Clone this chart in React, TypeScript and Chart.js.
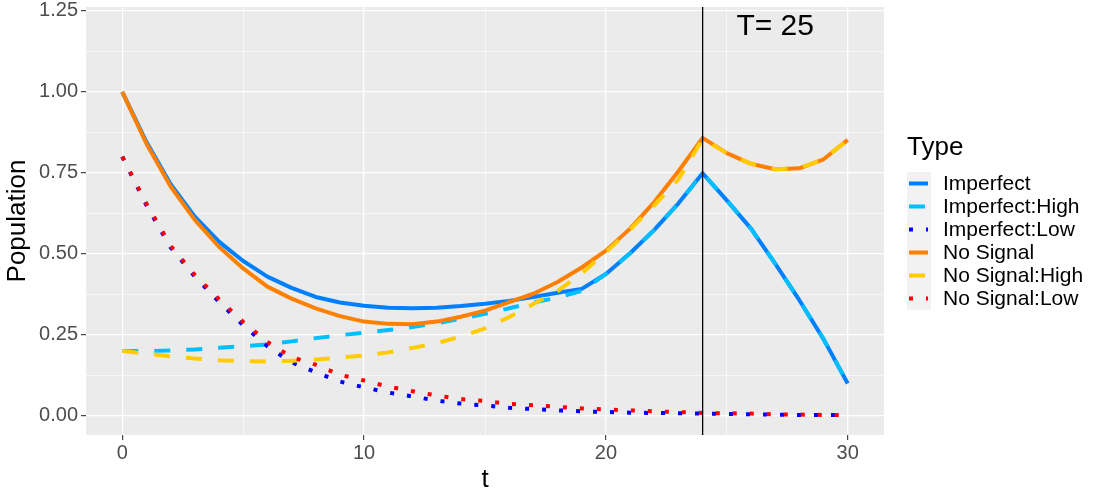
import React, { useEffect, useRef } from "react";
import { Chart, registerables } from "chart.js";

Chart.register(...registerables);

const tValues = [0, 1, 2, 3, 4, 5, 6, 7, 8, 9, 10, 11, 12, 13, 14, 15, 16, 17, 18, 19, 20, 21, 22, 23, 24, 25, 26, 27, 28, 29, 30];

const imperfect = [1.0, 0.845, 0.715, 0.615, 0.538, 0.478, 0.43, 0.395, 0.367, 0.35, 0.34, 0.334, 0.332, 0.334, 0.339, 0.346, 0.355, 0.367, 0.38, 0.392, 0.438, 0.502, 0.574, 0.656, 0.749, 0.665, 0.578, 0.47, 0.357, 0.237, 0.1];
const imperfectHigh = [0.2, 0.2, 0.202, 0.205, 0.21, 0.215, 0.221, 0.23, 0.24, 0.249, 0.257, 0.265, 0.274, 0.286, 0.3, 0.315, 0.332, 0.35, 0.365, 0.386, 0.438, 0.502, 0.574, 0.656, 0.749, 0.665, 0.578, 0.47, 0.357, 0.237, 0.1];
const imperfectLow = [0.8, 0.65, 0.52, 0.43, 0.352, 0.28, 0.215, 0.165, 0.135, 0.106, 0.088, 0.072, 0.06, 0.047, 0.038, 0.032, 0.025, 0.021, 0.017, 0.014, 0.012, 0.01, 0.009, 0.008, 0.007, 0.006, 0.005, 0.004, 0.003, 0.003, 0.002];
const noSignal = [1.0, 0.84, 0.708, 0.605, 0.522, 0.455, 0.399, 0.362, 0.332, 0.308, 0.291, 0.284, 0.283, 0.291, 0.306, 0.325, 0.351, 0.377, 0.413, 0.458, 0.51, 0.578, 0.66, 0.755, 0.858, 0.811, 0.778, 0.761, 0.764, 0.792, 0.852];
const noSignalHigh = [0.2, 0.192, 0.184, 0.177, 0.172, 0.169, 0.168, 0.17, 0.174, 0.18, 0.186, 0.196, 0.21, 0.224, 0.245, 0.27, 0.305, 0.345, 0.385, 0.44, 0.505, 0.575, 0.65, 0.73, 0.855, 0.811, 0.778, 0.761, 0.764, 0.792, 0.852];
const noSignalLow = [0.8, 0.655, 0.525, 0.435, 0.36, 0.29, 0.228, 0.182, 0.158, 0.127, 0.109, 0.09, 0.076, 0.063, 0.052, 0.046, 0.037, 0.033, 0.028, 0.023, 0.02, 0.017, 0.014, 0.012, 0.009, 0.008, 0.007, 0.005, 0.004, 0.003, 0.003];

const seriesNames = ["Imperfect", "Imperfect:High", "Imperfect:Low", "No Signal", "No Signal:High", "No Signal:Low"];
const seriesValues = [imperfect, imperfectHigh, imperfectLow, noSignal, noSignalHigh, noSignalLow];
const seriesColors = ["#0080FF", "#00BFFF", "#0000FF", "#FF8000", "#FFCC00", "#FF0000"];
const seriesDash = [[], [16, 16], [4, 13], [], [16, 16], [4, 13]];

const xTicks = [0, 5, 10, 15, 20, 25, 30];
const yTicks = [0, 0.125, 0.25, 0.375, 0.5, 0.625, 0.75, 0.875, 1.0, 1.125, 1.25];

const markerT = 24;
const markerLabel = "T= 25";
const markerLabelT = 27;
const markerLabelY = 1.2;

const FONT = "'Liberation Sans', Arial, sans-serif";

const isMajor = (v: number, step: number) => Math.abs(v / step - Math.round(v / step)) < 1e-6;

const ggPlugin = {
  id: "ggStyle",
  beforeDraw(chart: any) {
    const { ctx, chartArea: a } = chart;
    ctx.save();
    ctx.fillStyle = "#EBEBEB";
    ctx.fillRect(a.left, a.top, a.right - a.left, a.bottom - a.top);
    ctx.restore();
  },
  afterDatasetsDraw(chart: any) {
    const { ctx, chartArea: a, scales } = chart;
    const x = scales.x.getPixelForValue(markerT);
    ctx.save();
    ctx.strokeStyle = "#000000";
    ctx.lineWidth = 1.3;
    ctx.beginPath();
    ctx.moveTo(x, a.top);
    ctx.lineTo(x, a.bottom);
    ctx.stroke();
    ctx.fillStyle = "#000000";
    ctx.font = `30px ${FONT}`;
    ctx.textAlign = "center";
    ctx.textBaseline = "middle";
    ctx.fillText(markerLabel, scales.x.getPixelForValue(markerLabelT), scales.y.getPixelForValue(markerLabelY));
    ctx.restore();
  },
  afterDraw(chart: any) {
    const { ctx } = chart;
    ctx.save();
    ctx.fillStyle = "#000000";
    ctx.font = `26px ${FONT}`;
    ctx.textAlign = "left";
    ctx.textBaseline = "middle";
    ctx.fillText("Type", 907, 148);
    ctx.fillStyle = "#F2F2F2";
    ctx.fillRect(907, 172, 24, 138);
    seriesNames.forEach((name, i) => {
      const y = 183.5 + i * 23;
      ctx.strokeStyle = seriesColors[i];
      ctx.lineWidth = 4;
      ctx.setLineDash(seriesDash[i]);
      ctx.beginPath();
      ctx.moveTo(909, y);
      ctx.lineTo(928, y);
      ctx.stroke();
      ctx.setLineDash([]);
      ctx.fillStyle = "#000000";
      ctx.font = `21px ${FONT}`;
      ctx.fillText(name, 943, y + 1);
    });
    ctx.restore();
  },
};

const App: React.FC = () => {
  const canvasRef = useRef<HTMLCanvasElement | null>(null);

  useEffect(() => {
    if (!canvasRef.current) return;
    document.body.style.margin = "0";

    const chart = new Chart(canvasRef.current, {
      type: "line",
      data: {
        datasets: seriesNames.map((name, i) => ({
          label: name,
          data: tValues.map((t, j) => ({ x: t, y: seriesValues[i][j] })),
          borderColor: seriesColors[i],
          backgroundColor: seriesColors[i],
          borderWidth: 4,
          borderDash: seriesDash[i],
          borderCapStyle: "butt" as const,
          borderJoinStyle: "round" as const,
          pointRadius: 0,
          tension: 0,
          fill: false,
          order: seriesNames.length - i,
        })),
      },
      options: {
        responsive: true,
        maintainAspectRatio: false,
        animation: false,
        layout: { padding: { top: 7, right: 216, left: 0, bottom: 0 } },
        plugins: {
          legend: { display: false },
          tooltip: { enabled: false },
        },
        scales: {
          x: {
            type: "linear",
            min: -1.5,
            max: 31.5,
            afterBuildTicks: (axis: any) => {
              axis.ticks = xTicks.map((v) => ({ value: v }));
            },
            afterFit: (axis: any) => {
              axis.height = 65;
              axis.paddingLeft = 0;
              axis.paddingRight = 0;
            },
            ticks: {
              autoSkip: false,
              maxRotation: 0,
              padding: 1,
              color: "#4D4D4D",
              font: { family: FONT, size: 20 },
              callback: (v: any) => (isMajor(Number(v), 10) ? String(v) : ""),
            },
            grid: {
              color: "#FFFFFF",
              lineWidth: (c: any) => (isMajor(c.tick.value, 10) ? 1.3 : 0.6),
              tickColor: (c: any) => (isMajor(c.tick.value, 10) ? "#333333" : "rgba(0,0,0,0)"),
              tickLength: 5,
              tickWidth: 1.1,
            },
            border: { display: false },
            title: {
              display: true,
              text: "t",
              color: "#000000",
              font: { family: FONT, size: 26 },
              padding: { top: 0, bottom: 5 },
            },
          },
          y: {
            type: "linear",
            min: -0.059,
            max: 1.262,
            afterBuildTicks: (axis: any) => {
              axis.ticks = yTicks.map((v) => ({ value: v }));
            },
            afterFit: (axis: any) => {
              axis.width = 86;
              axis.paddingTop = 0;
              axis.paddingBottom = 0;
            },
            ticks: {
              autoSkip: false,
              padding: 3,
              color: "#4D4D4D",
              font: { family: FONT, size: 20 },
              callback: (v: any) => (isMajor(Number(v), 0.25) ? Number(v).toFixed(2) : ""),
            },
            grid: {
              color: "#FFFFFF",
              lineWidth: (c: any) => (isMajor(c.tick.value, 0.25) ? 1.3 : 0.6),
              tickColor: (c: any) => (isMajor(c.tick.value, 0.25) ? "#333333" : "rgba(0,0,0,0)"),
              tickLength: 5,
              tickWidth: 1.1,
            },
            border: { display: false },
            title: {
              display: true,
              text: "Population",
              color: "#000000",
              font: { family: FONT, size: 26 },
              padding: { top: 2, bottom: 0 },
            },
          },
        },
      },
      plugins: [ggPlugin],
    });

    return () => chart.destroy();
  }, []);

  return (
    <div style={{ position: "relative", width: "1100px", height: "500px" }}>
      <canvas ref={canvasRef}></canvas>
    </div>
  );
};

export default App;
